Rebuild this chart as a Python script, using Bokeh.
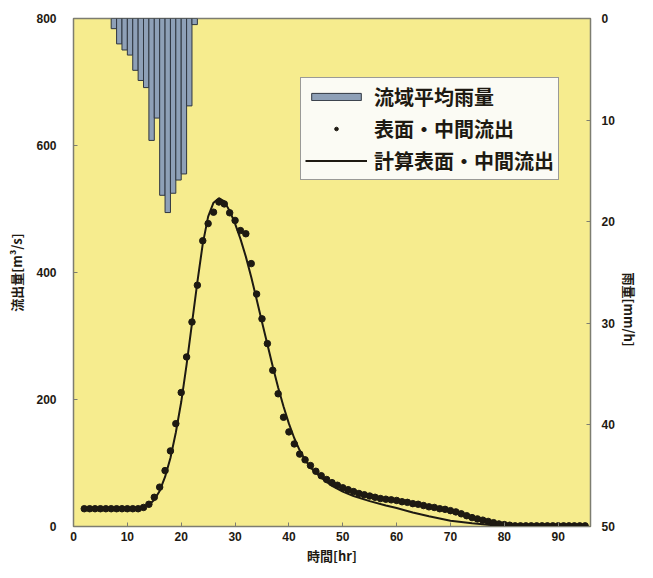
import math
from bokeh.plotting import figure
from bokeh.models import Range1d, LinearAxis, Legend, LegendItem, FixedTicker
from bokeh.embed import file_html
from bokeh.resources import INLINE

# --- data -------------------------------------------------------------
rain_hour = [7.5, 8.5, 9.5, 10.5, 11.5, 12.5, 13.5, 14.5, 15.5, 16.5,
             17.5, 18.5, 19.5, 20.5, 21.5, 22.5]
rain_mm = [1.0, 2.5, 3.1, 3.6, 5.1, 6.1, 6.8, 12.0, 9.8, 17.4,
           19.1, 17.2, 15.9, 15.3, 8.6, 0.6]

obs_t = list(range(2, 96))
obs_q = [28, 28, 28, 28, 28, 28, 28, 28, 28, 28, 28,
         30, 35, 46, 62, 88, 119, 162, 211, 267, 322,
         380, 450, 477, 495, 511, 508, 494, 482, 466, 461,
         414, 366, 327, 288, 246, 209, 172, 149, 130, 114,
         105, 96, 87, 80, 74, 69, 65, 61, 58, 55,
         52, 50, 48, 46, 44, 43, 42, 41, 39, 38,
         36, 35, 33, 31, 30, 28, 27, 25, 23, 20,
         17, 14, 12, 10, 8, 6, 4, 3, 2, 1,
         1, 1, 1, 1, 1, 1, 1, 1, 1, 1, 1, 1, 1, 1]

calc_t = [2, 12, 13, 14, 15, 16, 17, 18, 19, 20, 21, 22, 23, 24, 25, 26, 27,
          28, 29, 30, 31, 32, 33, 34, 35, 36, 37, 38, 39, 40, 41, 42, 43,
          44, 45, 46, 48, 50, 52, 55, 58, 60, 63, 66, 70, 74, 78, 82, 95]
calc_q = [28, 28, 30, 34, 42, 56, 78, 108, 148, 196, 255, 320, 385, 445,
          488, 510, 517, 512, 497, 477, 453, 425, 393, 358, 322, 287, 252,
          219, 189, 162, 139, 120, 105, 93, 85, 77, 64, 55, 48, 40, 33, 29,
          22, 16, 9, 5, 2, 1, 1]

x_ticks = [0, 10, 20, 30, 40, 50, 60, 70, 80, 90]
q_ticks = [0, 200, 400, 600, 800]
r_ticks = [0, 10, 20, 30, 40, 50]

# --- figure -----------------------------------------------------------
FONT_NUM = "Liberation Sans"
FONT_JP = "Noto Sans CJK JP"
INK = "#1e1a12"

p = figure(width=651, height=570, output_backend="svg", toolbar_location=None,
           x_range=Range1d(0, 96), y_range=Range1d(0, 800),
           min_border_left=73, min_border_right=57, min_border_top=18,
           min_border_bottom=44)
p.background_fill_color = "#f6ec8e"
p.border_fill_color = "white"
p.outline_line_color = "#7d7d70"
p.outline_line_width = 1.5
p.xgrid.visible = False
p.ygrid.visible = False

p.extra_y_ranges = {"rain": Range1d(50, 0)}

bars = p.vbar(x=rain_hour, width=1.0, top=0, bottom=rain_mm, y_range_name="rain",
              fill_color="#8ea0b7", line_color="#2f3640", line_width=1)
dots = p.scatter(obs_t, obs_q, size=6.5, fill_color=INK, line_color=INK)
line = p.line(calc_t, calc_q, line_color=INK, line_width=2)

def style_axis(ax, ticks, standoff, label_standoff):
    ax.ticker = FixedTicker(ticks=ticks)
    ax.major_tick_in = 4
    ax.major_tick_out = 0
    ax.minor_tick_in = 0
    ax.minor_tick_out = 0
    ax.axis_line_color = "#7d7d70"
    ax.major_tick_line_color = "#7d7d70"
    ax.major_label_text_font = FONT_NUM
    ax.major_label_text_font_style = "bold"
    ax.major_label_text_font_size = "12px"
    ax.major_label_text_color = INK
    ax.major_label_standoff = standoff
    ax.axis_label_text_font = FONT_JP
    ax.axis_label_text_font_style = "bold"
    ax.axis_label_text_font_size = "13px"
    ax.axis_label_text_color = INK
    ax.axis_label_standoff = label_standoff

p.xaxis.axis_label = "時間[hr]"
style_axis(p.xaxis[0], x_ticks, 5, 2)
p.yaxis.axis_label = "流出量[m³/s]"
style_axis(p.yaxis[0], q_ticks, 17, 7)

rax = LinearAxis(y_range_name="rain", axis_label="雨量[mm/h]")
style_axis(rax, r_ticks, 11, 12)
rax.axis_label_orientation = -math.pi / 2
p.add_layout(rax, "right")

legend = Legend(items=[
    LegendItem(label="流域平均雨量", renderers=[bars]),
    LegendItem(label="表面・中間流出", renderers=[dots]),
    LegendItem(label="計算表面・中間流出", renderers=[line]),
], location=(227, 346))
legend.label_text_font = FONT_JP
legend.label_text_font_style = "bold"
legend.label_text_font_size = "20px"
legend.label_text_color = INK
legend.glyph_width = 62
legend.glyph_height = 9
legend.label_standoff = 7
legend.padding = 4
legend.spacing = 3
legend.margin = 0
legend.border_line_color = "#3a3a3a"
legend.border_line_width = 1.5
legend.background_fill_color = "#fbfbf4"
legend.background_fill_alpha = 1.0
p.add_layout(legend, "center")

open("out.html", "w").write(file_html(p, INLINE))
